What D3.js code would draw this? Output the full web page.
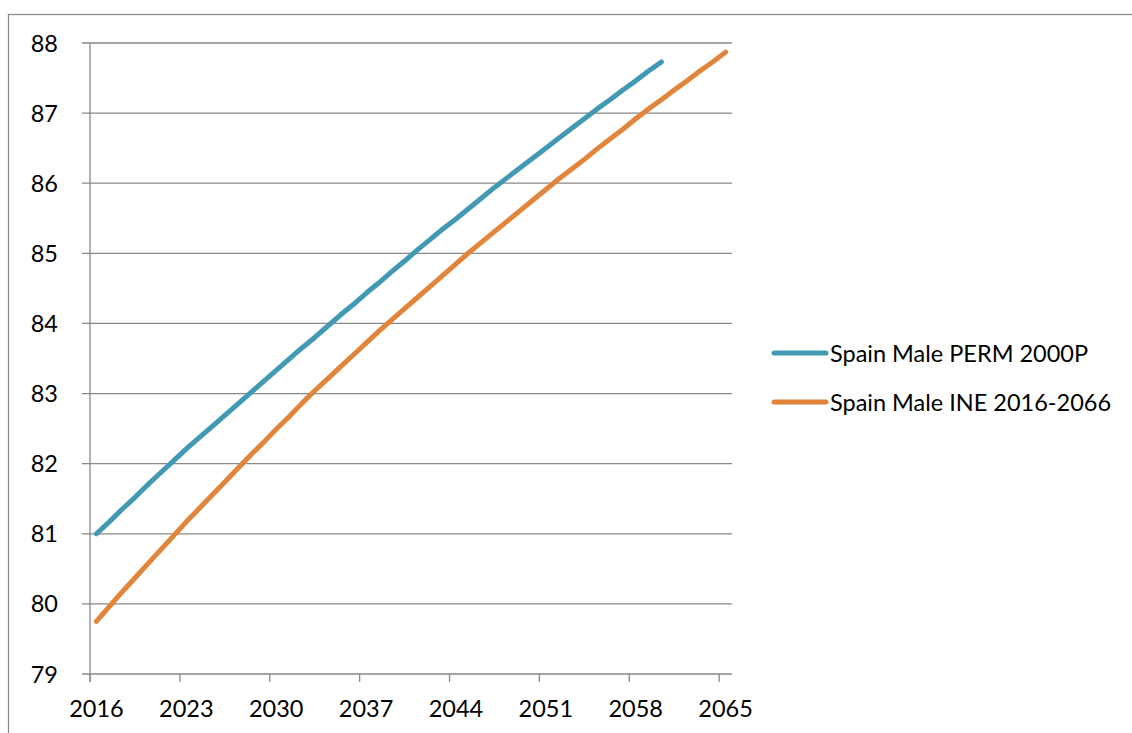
<!DOCTYPE html>
<html>
<head>
<meta charset="utf-8">
<script src="https://cdn.jsdelivr.net/npm/d3@7"></script>
<style>
  html, body { margin: 0; padding: 0; background: #fff; }
  svg { display: block; }
  text { font-family: Lato, "Liberation Sans", sans-serif; fill: #000; }
</style>
</head>
<body>
<div id="chart"></div>
<script>
// years shown on the category axis
var years = d3.range(2016, 2066);
var tickYears = [2016, 2023, 2030, 2037, 2044, 2051, 2058, 2065];
var yTicks = [79, 80, 81, 82, 83, 84, 85, 86, 87, 88];

// life expectancy
var permYears = d3.range(2016, 2061);
var permValues = [81.00, 81.17, 81.35, 81.52, 81.70, 81.87, 82.04, 82.21, 82.37, 82.53,
                  82.69, 82.85, 83.01, 83.17, 83.33, 83.49, 83.65, 83.80, 83.96, 84.12,
                  84.27, 84.43, 84.58, 84.74, 84.89, 85.05, 85.20, 85.35, 85.49, 85.64,
                  85.79, 85.94, 86.08, 86.22, 86.36, 86.50, 86.64, 86.78, 86.92, 87.06,
                  87.19, 87.33, 87.46, 87.60, 87.73];
var ineYears = d3.range(2016, 2066);
var ineValues = [79.75, 79.96, 80.17, 80.37, 80.57, 80.77, 80.97, 81.17, 81.36, 81.55,
                 81.74, 81.93, 82.12, 82.30, 82.49, 82.67, 82.86, 83.04, 83.21, 83.38,
                 83.55, 83.72, 83.89, 84.05, 84.21, 84.37, 84.53, 84.69, 84.85, 85.01,
                 85.16, 85.31, 85.46, 85.61, 85.76, 85.91, 86.06, 86.20, 86.34, 86.49,
                 86.63, 86.77, 86.92, 87.06, 87.19, 87.33, 87.46, 87.60, 87.73, 87.87];

var seriesNames = ["Spain Male PERM 2000P", "Spain Male INE 2016-2066"];
var seriesColors = ["#4199b4", "#e0853a"];

function init() {
    var w = 1132, h = 733;
    var left = 90, right = 732, top = 43, bottom = 674;
    var grey = "#898989";
    var fs = "23.5px";

    var svg = d3.select("#chart")
                .append("svg")
                .attr("width", w)
                .attr("height", h);

    // outer chart border
    svg.append("rect")
       .attr("x", 8.5).attr("y", 14.5)
       .attr("width", w + 10).attr("height", h + 10)
       .attr("fill", "none")
       .attr("stroke", grey)
       .attr("stroke-width", 1.3);

    var x = d3.scaleBand().domain(years).range([left, right]).padding(0);
    var y = d3.scaleLinear().domain([79, 88]).range([bottom, top]);
    var bw = x.bandwidth();

    //Gridlines + y ticks
    svg.selectAll("line.grid")
       .data(yTicks)
       .enter()
       .append("line")
       .attr("class", "grid")
       .attr("x1", left - 8)
       .attr("x2", right)
       .attr("y1", function(d){ return y(d); })
       .attr("y2", function(d){ return y(d); })
       .attr("stroke", grey)
       .attr("stroke-width", 1.3);

    svg.selectAll("text.ylab")
       .data(yTicks)
       .enter()
       .append("text")
       .attr("class", "ylab")
       .attr("x", 58)
       .attr("y", function(d){ return y(d) + 8.5; })
       .attr("text-anchor", "end")
       .style("font-size", fs)
       .text(function(d){ return d; });

    // y axis line
    svg.append("line")
       .attr("x1", left).attr("x2", left)
       .attr("y1", top).attr("y2", bottom + 8)
       .attr("stroke", grey)
       .attr("stroke-width", 1.3);

    // x ticks at category boundaries
    svg.selectAll("line.xtick")
       .data(tickYears)
       .enter()
       .append("line")
       .attr("class", "xtick")
       .attr("x1", function(d){ return x(d); })
       .attr("x2", function(d){ return x(d); })
       .attr("y1", bottom)
       .attr("y2", bottom + 8)
       .attr("stroke", grey)
       .attr("stroke-width", 1.3);

    svg.selectAll("text.xlab")
       .data(tickYears)
       .enter()
       .append("text")
       .attr("class", "xlab")
       .attr("x", function(d){ return x(d) + bw / 2; })
       .attr("y", 717)
       .attr("text-anchor", "middle")
       .style("font-size", fs)
       .text(function(d){ return d; });

    var line = d3.line()
        .x(function(d){ return x(d[0]) + bw / 2; })
        .y(function(d){ return y(d[1]); });

    var series = [
        d3.zip(permYears, permValues),
        d3.zip(ineYears, ineValues)
    ];

    svg.selectAll("path.series")
       .data(series)
       .enter()
       .append("path")
       .attr("class", "series")
       .attr("d", line)
       .attr("fill", "none")
       .attr("stroke", function(d, i){ return seriesColors[i]; })
       .attr("stroke-width", 5)
       .attr("stroke-linecap", "round")
       .attr("stroke-linejoin", "round");

    //Legend
    var legend = svg.selectAll("g.legend")
        .data(seriesNames)
        .enter()
        .append("g")
        .attr("class", "legend")
        .attr("transform", function(d, i){ return "translate(0," + (353 + i * 49) + ")"; });

    legend.append("line")
          .attr("x1", 774).attr("x2", 826)
          .attr("y1", 0).attr("y2", 0)
          .attr("stroke", function(d, i){ return seriesColors[i]; })
          .attr("stroke-width", 5)
          .attr("stroke-linecap", "round");

    legend.append("text")
          .attr("x", 830)
          .attr("y", 8.5)
          .style("font-size", fs)
          .text(function(d){ return d; });
}
window.onload = init;
</script>
</body>
</html>
